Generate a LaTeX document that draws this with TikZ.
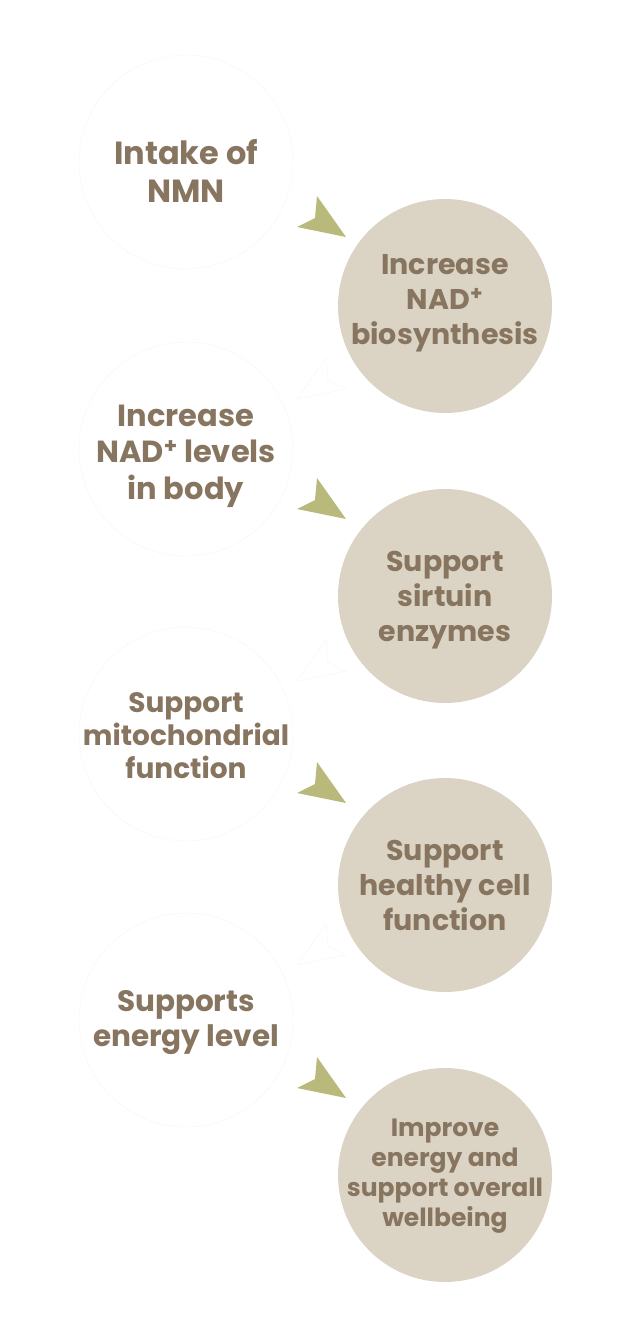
\documentclass[tikz,border=0pt]{standalone}
\usepackage{fontspec}
\setmainfont{Poppins}

\definecolor{stepbrown}{HTML}{877560}
\definecolor{stepbeige}{HTML}{DBD3C3}
\definecolor{steparrow}{HTML}{B8B97A}
\definecolor{stepfaint}{HTML}{F6F6F3}

\tikzset{
  leftcircle/.style={circle, draw=stepfaint, fill=white, minimum size=214pt, inner sep=0pt},
  rightcircle/.style={circle, fill=stepbeige, minimum size=214pt, inner sep=0pt},
  steptext/.style={text=stepbrown, align=center},
}

\begin{document}
\begin{tikzpicture}[x=1pt,y=-1pt]
		\useasboundingbox (0,0) rectangle (631,1327);
		% circles
		\foreach \i/\y in {1/162,2/449,3/734,4/1020}
		\node[leftcircle] (L\i) at (186,\y) {};
		\foreach \i/\y in {1/306,2/596,3/885,4/1175}
		\node[rightcircle] (R\i) at (445,\y) {};
		% faint arrows back to the left
		\foreach \y in {399,681,965}
		\filldraw[draw=stepfaint, fill=white] (297,\y) -- ++(29,-41) -- ++(2,22) -- ++(18,9) -- cycle;
		% arrows to the right
		\foreach \y in {237,519,803,1098}
		\fill[steparrow] (346,\y) -- ++(-29,-41) -- ++(-2,22) -- ++(-18,9) -- cycle;
		% texts
		\node[steptext, font=\bfseries\fontsize{32}{38}\selectfont, yshift=-9pt] (T1) at (L1) {Intake of\\NMN};
		\node[steptext, font=\bfseries\fontsize{28.5}{35}\selectfont, yshift=3pt] (T2) at (R1) {Increase\\NAD\textsuperscript{+}\\biosynthesis};
		\node[steptext, font=\bfseries\fontsize{30.5}{36.5}\selectfont, yshift=-7pt] (T3) at (L2) {Increase\\NAD\textsuperscript{+} levels\\in body};
		\node[steptext, font=\bfseries\fontsize{28.5}{35}\selectfont, yshift=-4pt] (T4) at (R2) {Support\\sirtuin\\enzymes};
		\node[steptext, font=\bfseries\fontsize{28}{33}\selectfont, yshift=-2pt] (T5) at (L3) {Support\\mitochondrial\\function};
		\node[steptext, font=\bfseries\fontsize{28.5}{35}\selectfont] (T6) at (R3) {Support\\healthy cell\\function};
		\node[steptext, font=\bfseries\fontsize{29.5}{35}\selectfont, yshift=-2.5pt] (T7) at (L4) {Supports\\energy level};
		\node[steptext, font=\bfseries\fontsize{25}{30}\selectfont, yshift=-1pt] (T8) at (R4) {Improve\\energy and\\support overall\\wellbeing};
	\end{tikzpicture}
\end{document}
